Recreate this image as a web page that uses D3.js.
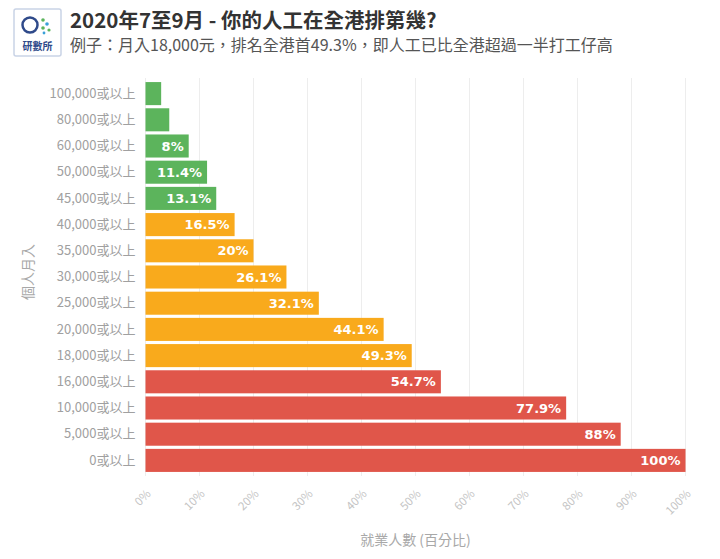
<!DOCTYPE html>
<html><head><meta charset="utf-8">
<script src="https://cdn.jsdelivr.net/npm/d3@7"></script>
<style>
body{margin:0;background:#fff;}
svg{display:block;}
</style></head>
<body>
<svg id="chart" width="720" height="559"></svg>
<script>
const categories = ["100,000或以上","80,000或以上","60,000或以上","50,000或以上","45,000或以上","40,000或以上","35,000或以上","30,000或以上","25,000或以上","20,000或以上","18,000或以上","16,000或以上","10,000或以上","5,000或以上","0或以上"];
const values = [2.9, 4.4, 8, 11.4, 13.1, 16.5, 20, 26.1, 32.1, 44.1, 49.3, 54.7, 77.9, 88, 100];
const groups = ["g","g","g","g","g","o","o","o","o","o","o","r","r","r","r"];
const showLabel = [false,false,true,true,true,true,true,true,true,true,true,true,true,true,true];
const xTicks = [0,10,20,30,40,50,60,70,80,90,100];
const title = "2020年7至9月 - 你的人工在全港排第幾?";
const subtitle = "例子：月入18,000元，排名全港首49.3%，即人工已比全港超過一半打工仔高";
const xTitle = "就業人數 (百分比)";
const yTitle = "個人月入";

const colors = {g:"#5cb45c", o:"#f9aa1c", r:"#e0564a"};
const cjk = "'Noto Sans CJK TC','Noto Sans CJK SC',sans-serif";

const rows = categories.map((c,i)=>({cat:c, v:values[i], grp:groups[i], show:showLabel[i]}));

const svg = d3.select("#chart");
const x = d3.scaleLinear().domain([0,100]).range([145.5,685.5]);
const y = d3.scaleBand().domain(categories).range([80.5,473.5]).paddingInner(0.12).paddingOuter(0.06);

// gridlines
svg.append("g").selectAll("line").data(xTicks).join("line")
  .attr("x1",d=>x(d)).attr("x2",d=>x(d))
  .attr("y1",78).attr("y2",476)
  .attr("stroke","#ededed").attr("stroke-width",1);

// bars
svg.append("g").selectAll("rect").data(rows).join("rect")
  .attr("x",x(0)).attr("y",d=>y(d.cat))
  .attr("width",d=>x(d.v)-x(0)).attr("height",y.bandwidth())
  .attr("fill",d=>colors[d.grp]);

// value labels
svg.append("g").selectAll("text").data(rows.filter(d=>d.show)).join("text")
  .attr("x",d=>x(d.v)-5)
  .attr("y",d=>y(d.cat)+y.bandwidth()/2)
  .attr("dy","0.36em").attr("text-anchor","end")
  .attr("fill","#fff").attr("font-family","'DejaVu Sans',sans-serif")
  .attr("font-weight","bold").attr("font-size",13)
  .text(d=>d.v+"%");

// y axis labels
const yAxis = d3.axisLeft(y).tickSize(0).tickPadding(10);
const yg = svg.append("g").attr("transform",`translate(${x(0)},0)`).call(yAxis);
yg.select(".domain").remove();
yg.selectAll("text").attr("fill","#a0a0a0").attr("font-family",cjk).attr("font-size",13);

// x axis
const xAxis = d3.axisBottom(x).tickValues(xTicks).tickFormat(d=>d+"%").tickSize(0).tickPadding(0);
const xg = svg.append("g").attr("transform",`translate(0,486)`).call(xAxis);
xg.select(".domain").remove();
xg.selectAll("text").attr("fill","#c4c4c4").attr("font-family",cjk).attr("font-size",11.5)
  .attr("text-anchor","end").attr("dy","0.3em")
  .attr("transform","translate(3,6) rotate(-45)");

// axis titles
svg.append("text").attr("x",(x(0)+x(100))/2).attr("y",545).attr("text-anchor","middle")
  .attr("fill","#a8a8a8").attr("font-family",cjk).attr("font-size",14).text(xTitle);
svg.append("text").attr("transform","translate(33,272) rotate(-90)").attr("text-anchor","middle")
  .attr("fill","#a8a8a8").attr("font-family",cjk).attr("font-size",14).text(yTitle);

// title
svg.append("text").attr("x",70).attr("y",28).attr("fill","#333").attr("font-family",cjk)
  .attr("font-weight","bold").attr("font-size",20.5).text(title);
svg.append("text").attr("x",70).attr("y",51).attr("fill","#555").attr("font-family",cjk)
  .attr("font-size",16).text(subtitle);

// logo
const lg = svg.append("g");
lg.append("rect").attr("x",14).attr("y",9).attr("width",47).attr("height",47).attr("rx",2)
  .attr("fill","#fff").attr("stroke","#c9d3e6").attr("stroke-width",1.5);
lg.append("circle").attr("cx",30).attr("cy",25).attr("r",7.5).attr("fill","none")
  .attr("stroke","#2f4a8a").attr("stroke-width",2.5);
[[43,20,"#5cb45c",1.8],[47,24,"#3aa0d8",1.8],[43,28,"#5cb45c",1.8],[49,30,"#5cb45c",1.6],[44,33,"#3aa0d8",1.4]].forEach(p=>{
  lg.append("circle").attr("cx",p[0]).attr("cy",p[1]).attr("r",p[3]).attr("fill",p[2]);
});
lg.append("text").attr("x",37.5).attr("y",50).attr("text-anchor","middle").attr("fill","#2f4a8a")
  .attr("font-family",cjk).attr("font-size",10).attr("font-weight","bold").text("研數所");
</script>
</body></html>
